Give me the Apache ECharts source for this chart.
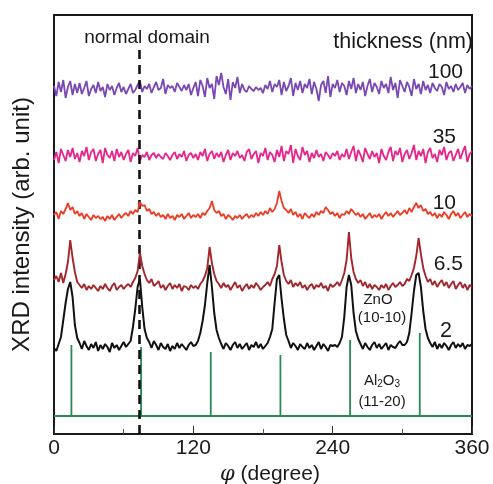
<!DOCTYPE html>
<html>
<head>
<meta charset="utf-8">
<script src="https://cdn.jsdelivr.net/npm/echarts@6/dist/echarts.min.js"></script>
<style>
  html, body { margin: 0; padding: 0; background: #fff; }
  #chart { width: 493px; height: 484px; }
</style>
</head>
<body>
<div id="chart"></div>
<script>
// phi scan, sampled every 2 degrees from 0 to 360
const phiStep = 2;
const phi = Array.from({ length: 181 }, (_, i) => i * phiStep);

// film thickness of each trace (nm) and vertical offset of each trace (arb. unit)
const thickness = ['100', '35', '10', '6.5', '2'];
const traceOffset = [344, 277, 217, 146, 87];

// intensities relative to each trace's background (arb. unit)
const t100 = [
  4, -6, 8, -2, 10, -8, 3, 9, -5, 6, -3,
  7, -4, 2, 9, -6, 1, 5, -3, 8, -1,
  3, -7, 6, 0, 4, -5, 2, 7, -2, 3,
  -4, 1, 6, -3, 0, 5, 9, -2, 4, 1,
  6, -3, 3, 8, 0, 2, 11, -4, 5, 2,
  4, -2, 7, 3, -1, 5, 0, 6, -5, 2,
  8, -6, 10, 4, -7, 12, 2, 6, -9, 14,
  5, 17, 3, -4, 11, -10, 8, 2, 13, -3,
  6, 0, -2, 4, 1, -1, 3, 0, 2, -3,
  5, 1, 9, -2, 6, 3, 10, -5, 8, -1,
  4, 12, -6, 7, 0, 9, -3, 6, 2, 11,
  -4, 8, 1, -11, 5, 9, -3, 14, -7, 6,
  2, 10, -2, 7, 4, -5, 9, 1, 12, -3,
  6, 0, 8, -6, 4, 11, -2, 7, 3, -4,
  9, 2, 6, -3, 13, 0, 7, -8, 10, 4,
  -2, 8, 3, -6, 11, 1, 6, -4, 9, 0,
  5, -3, 7, 2, -1, 6, 3, -5, 8, 1,
  4, -2, 6, 0, 3, 7, -3, 5, 1, 4
];
const t35 = [
  -3, 5, -6, 8, 2, -4, 7, 0, 9, -2, 4,
  -5, 6, 1, 10, -3, 5, 8, -4, 3, 7,
  -6, 9, 2, -1, 6, -4, 8, 0, 5, -3,
  3, 7, -5, 4, 1, 9, -4, 2, 0, 5,
  -3, 2, 4, -1, 3, 0, -2, 4, 1, -3,
  2, 5, -2, 3, 0, 6, -4, 2, 4, -1,
  3, -3, 5, 1, 8, -4, 3, 6, -2, 4,
  0, 5, -5, 2, 7, -3, 4, 1, 6, -1,
  2, -4, 5, 8, -2, 3, 6, -6, 4, 1,
  9, -3, 5, 2, -5, 7, 0, 11, -4, 6,
  3, 12, -6, 8, 1, -3, 10, 2, 6, -5,
  4, -1, 7, 0, 3, -4, 5, 2, -2, 4,
  1, 6, -3, 3, 0, 8, -2, 5, 11, -4,
  7, 2, -5, 9, 3, -2, 6, 0, 4, -6,
  8, 1, -3, 5, 10, -4, 6, 2, 9, -5,
  3, 7, -2, 4, 12, -3, 6, 1, 8, -6,
  5, 9, -1, 3, -5, 7, 2, 10, -3, 4,
  6, -4, 2, 8, -2, 5, 11, -5, 3, 6
];
const t10 = [
  2, 5, -2, 6, 3, 8, 14, 7, 10, 3, 6,
  1, 4, -2, 3, 0, -3, 2, -1, 1, -2,
  0, -4, 1, -2, 2, -3, 0, 3, -1, 2,
  4, 1, 6, 3, 7, 5, 15, 11, 12, 6,
  8, 3, 5, 1, 4, 0, 2, -2, 3, -1,
  1, -3, 2, 0, 3, -2, 1, 4, -1, 2,
  0, 3, -1, 4, 2, 6, 9, 16, 7, 4,
  6, 1, 3, -2, 2, 0, -3, 1, -1, 2,
  -2, 1, 3, -1, 2, 0, 4, 1, 5, 2,
  6, 3, 9, 5, 8, 14, 26, 16, 9, 7,
  4, 8, 2, 5, 0, 3, -2, 4, 1, -1,
  3, 0, 5, 2, 6, 4, 10, 7, 3, 5,
  1, 4, -1, 3, 2, 6, 3, 8, 5, 2,
  4, 0, 3, -2, 1, 4, -1, 2, 0, 3,
  -2, 2, 5, 1, 4, 0, 3, 6, 2, 4,
  7, 3, 9, 5, 10, 14, 9, 12, 6, 8,
  3, 5, 1, 4, -1, 3, 0, 5, 2, -2,
  3, 6, 1, 4, -1, 2, 5, 0, 3, 1
];
const t6p5 = [
  8, 12, 6, 15, 5, 14, 26, 48, 30, 16, 6,
  3, 0, 4, -2, 2, -1, 3, 0, -3, 2,
  -1, 4, 0, -3, 2, 5, -2, 1, 3, -1,
  2, 4, 1, 6, 10, 17, 35, 22, 14, 8,
  5, 9, 2, 4, 7, 0, 3, -2, 2, 5,
  -1, 3, 0, 4, -3, 2, 1, -2, 3, 0,
  2, -1, 4, 7, 12, 20, 41, 25, 14, 7,
  4, 0, 5, 1, 3, -2, 2, 6, 0, 3,
  -3, 1, 4, -1, 3, 0, 5, 2, -2, 1,
  3, 6, 2, 9, 14, 22, 43, 26, 13, 7,
  4, 8, 1, 5, 2, 6, 0, 3, -2, 2,
  4, -1, 3, 1, 5, 0, 2, -3, 4, 1,
  3, 6, 2, 8, 15, 28, 56, 30, 16, 9,
  5, 8, 2, 6, 0, 4, -1, 3, 1, -2,
  3, 0, 4, -2, 2, 5, 1, 3, 6, 2,
  4, 9, 7, 13, 20, 32, 50, 34, 20, 12,
  6, 9, 3, 7, 1, 5, 8, 2, 6, 0,
  4, 7, -1, 3, 6, 0, 4, -2, 3, 1
];
const t2 = [
  -1, -4, 3, 10, 27, 44, 58, 65, 50, 22, 9,
  4, -2, 6, 1, -3, 3, -1, 5, -4, 2,
  -2, 3, 0, -5, 4, -1, 2, -3, 1, 5,
  0, 3, 6, 20, 38, 60, 68, 40, 18, 9,
  5, -1, 6, 2, -3, 4, 0, -2, 3, -4,
  1, -2, 4, -1, 3, 0, -3, 2, 5, 1,
  2, 6, 14, 26, 42, 64, 82, 60, 34, 17,
  9, 3, -2, 4, 1, -3, 2, 5, -1, 3,
  -2, 1, 4, -3, 2, 0, 5, -1, 3, -2,
  1, 4, 10, 18, 44, 68, 72, 48, 28, 12,
  6, -1, 4, 1, -3, 3, 0, -2, 4, -1,
  2, -3, 1, 5, -2, 3, 0, -4, 2, 1,
  2, 0, 4, 10, 30, 60, 72, 62, 34, 16,
  8, 3, -2, 4, 0, -3, 2, 5, -1, 3,
  -2, 1, 4, -3, 2, 0, -1, 3, 6, 2,
  2, 5, 14, 34, 56, 72, 74, 60, 36, 18,
  9, 4, 0, 5, -2, 3, -1, 4, 1, -3,
  2, 5, -1, 3, 0, 4, -2, 2, 1, 3
];
const traces = [t100, t35, t10, t6p5, t2];

// Al2O3 (11-20) substrate reflections: positions (degree) and heights above the substrate baseline
const al2o3Phi = [15, 75, 135, 195, 255, 315];
const al2o3Height = [71, 69, 64, 61, 76, 83];
const al2o3Base = 18;

// phi of the normal domain marker and the axis ticks
const normalDomainPhi = 73.5;
const normalDomainTop = 384;
const xTicks = [0, 120, 240, 360];

const traceColors = ['#7a48b4', '#e6268b', '#ee3b24', '#a3262c', '#111111'];
const traceWidths = [1.8, 1.8, 1.8, 1.9, 2];

const traceSeries = traces.map((vals, k) => ({
  type: 'line',
  name: thickness[k],
  data: vals.map((v, i) => [phi[i], v + traceOffset[k]]),
  showSymbol: false,
  symbol: 'none',
  lineStyle: { color: traceColors[k], width: traceWidths[k] },
  z: 3 + k,
  silent: true
}));

// substrate stick pattern: baseline with vertical sticks
const stickData = [[0, al2o3Base]];
al2o3Phi.forEach((p, i) => {
  stickData.push([p, al2o3Base], [p, al2o3Base + al2o3Height[i]], [p, al2o3Base]);
});
stickData.push([360, al2o3Base]);

const chart = echarts.init(document.getElementById('chart'), null, { renderer: 'canvas' });
const font = 'Liberation Sans, Arial, sans-serif';
const ink = '#1a1a1a';

function label(x, y, text, size, align) {
  return {
    type: 'text', x: x, y: y,
    style: { text: text, fontFamily: font, fontSize: size, fill: ink, textAlign: align || 'center', textVerticalAlign: 'middle' }
  };
}

chart.setOption({
  animation: false,
  backgroundColor: '#ffffff',
  grid: {
    left: 54, right: 21, top: 15, bottom: 50,
    outerBoundsMode: 'none',
    containLabel: false,
    show: true, borderColor: ink, borderWidth: 2, backgroundColor: 'transparent'
  },
  xAxis: {
    type: 'value', min: xTicks[0], max: xTicks[xTicks.length - 1], interval: 120,
    axisLine: { show: true, onZero: false, lineStyle: { color: ink, width: 2 } },
    axisTick: { show: true, inside: true, length: 8, lineStyle: { color: '#333', width: 1 } },
    minorTick: { show: true, splitNumber: 2, length: 5, lineStyle: { color: '#555', width: 1 } },
    splitLine: { show: false },
    axisLabel: { fontFamily: font, fontSize: 21, color: ink, margin: 4 },
    name: '{i|φ} (degree)',
    nameLocation: 'middle',
    nameGap: 28,
    nameTextStyle: {
      fontFamily: font, fontSize: 21, color: ink, padding: [0, 0, 0, 14],
      rich: { i: { fontFamily: 'DejaVu Serif, serif', fontStyle: 'italic', fontSize: 21, color: ink } }
    }
  },
  yAxis: {
    type: 'value', min: 0, max: 419,
    axisLine: { show: true, lineStyle: { color: ink, width: 2 } },
    axisTick: { show: false },
    axisLabel: { show: false },
    splitLine: { show: false },
    name: 'XRD intensity (arb. unit)',
    nameLocation: 'middle',
    nameGap: 20,
    nameRotate: 90,
    nameTextStyle: { fontFamily: font, fontSize: 24, color: ink }
  },
  series: [
    {
      type: 'line',
      data: stickData,
      showSymbol: false,
      symbol: 'none',
      lineStyle: { color: '#2a8a55', width: 1.8 },
      z: 2,
      silent: true
    },
    ...traceSeries,
    {
      type: 'line',
      data: [],
      z: 10,
      silent: true,
      markLine: {
        silent: true,
        symbol: 'none',
        label: { show: false },
        lineStyle: { color: '#111', width: 2.6, type: [9, 6] },
        data: [[{ coord: [normalDomainPhi, 0] }, { coord: [normalDomainPhi, normalDomainTop] }]]
      }
    }
  ],
  graphic: [
    label(147, 38, 'normal domain', 19),
    label(473, 42, 'thickness (nm)', 21.5, 'right'),
    label(463, 72, thickness[0], 21, 'right'),
    label(456, 137, thickness[1], 21, 'right'),
    label(456, 203, thickness[2], 21, 'right'),
    label(463, 264, thickness[3], 21, 'right'),
    label(452, 331, thickness[4], 21.5, 'right'),
    label(378, 300, 'ZnO', 15),
    label(382, 318, '(10-10)', 15),
    {
      type: 'text', x: 382, y: 381,
      style: {
        text: '{a|Al}{s|2}{a|O}{s|3}', fontFamily: font, fontSize: 15, fill: ink,
        textAlign: 'center', textVerticalAlign: 'middle',
        rich: {
          a: { fontFamily: font, fontSize: 15, fill: ink },
          s: { fontFamily: font, fontSize: 10, fill: ink, verticalAlign: 'bottom', padding: [7, 0, 0, 0] }
        }
      }
    },
    label(382, 402, '(11-20)', 15)
  ]
});
</script>
</body>
</html>
